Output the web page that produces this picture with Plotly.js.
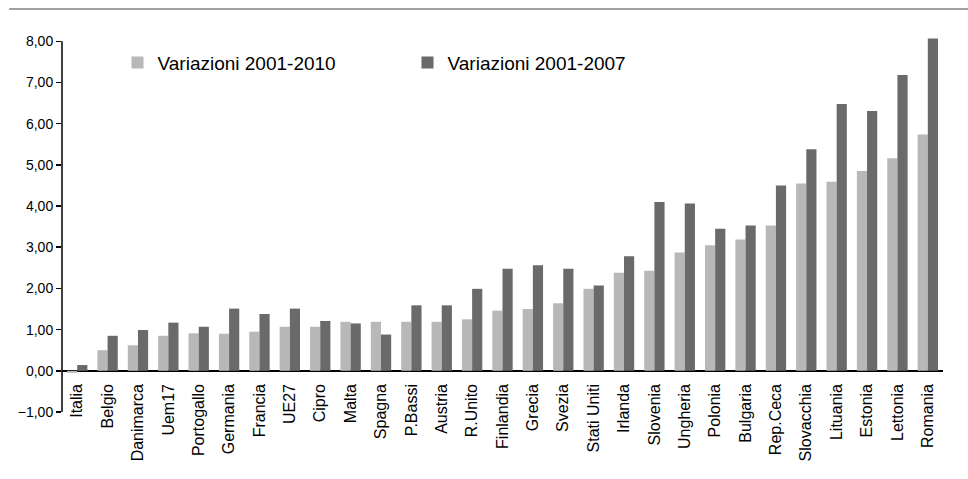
<!DOCTYPE html>
<html>
<head>
<meta charset="utf-8">
<script src="https://cdn.plot.ly/plotly-3.0.1.min.js"></script>
<style>html,body{margin:0;padding:0;background:#fff;}#chart{width:968px;height:479px;}</style>
</head>
<body>
<div id="chart"></div>
<script>
const countries = ["Italia","Belgio","Danimarca","Uem17","Portogallo","Germania","Francia","UE27","Cipro","Malta","Spagna","P.Bassi","Austria","R.Unito","Finlandia","Grecia","Svezia","Stati Uniti","Irlanda","Slovenia","Ungheria","Polonia","Bulgaria","Rep.Ceca","Slovacchia","Lituania","Estonia","Lettonia","Romania"];
const var2001_2010 = [-0.05,0.50,0.62,0.85,0.91,0.90,0.95,1.07,1.07,1.19,1.19,1.19,1.19,1.25,1.46,1.50,1.64,1.99,2.38,2.43,2.87,3.05,3.19,3.53,4.55,4.59,4.85,5.16,5.74];
const var2001_2007 = [0.14,0.85,0.99,1.17,1.07,1.51,1.38,1.51,1.21,1.15,0.88,1.59,1.59,1.99,2.48,2.56,2.48,2.07,2.78,4.10,4.06,3.45,3.53,4.50,5.38,6.48,6.31,7.18,8.07];
const seriesNames = ["Variazioni 2001-2010","Variazioni 2001-2007"];
const yTicks = [-1,0,1,2,3,4,5,6,7,8];

const yMin = -1, yTop = 8, yMax = 8.08;
const font = "Liberation Sans, Arial, sans-serif";
const traces = [
  {type:"bar", name:seriesNames[0], x:countries, y:var2001_2010, marker:{color:"#b8b8b8"}},
  {type:"bar", name:seriesNames[1], x:countries, y:var2001_2007, marker:{color:"#6a6a6a"}}
];
const layout = {
  width:968, height:479,
  margin:{l:62, r:25, t:38, b:67, pad:0},
  paper_bgcolor:"#fff", plot_bgcolor:"#fff",
  separators:",.",
  barmode:"group", bargap:0.33, bargroupgap:0,
  font:{family:font, color:"#000", size:14},
  showlegend:true,
  legend:{orientation:"h", x:0.063, y:0.985, xanchor:"left", yanchor:"top",
          font:{family:font, size:19, color:"#000"}, entrywidth:245, bgcolor:"rgba(0,0,0,0)"},
  xaxis:{type:"category", anchor:"free", position:(0-yMin)/(yMax-yMin), showline:false, ticks:"", showgrid:false,
         tickangle:-90, tickfont:{family:font, size:16, color:"#000"}, ticklabelstandoff:9,
         range:[-0.5, countries.length-0.5]},
  yaxis:{range:[yMin,yMax], tickvals:yTicks, tickformat:".2f", showgrid:false,
         showline:false, ticks:"outside", ticklen:5, tickcolor:"#000", tickwidth:1.5,
         zeroline:true, zerolinecolor:"#000", zerolinewidth:1.5,
         tickfont:{family:font, size:14, color:"#000"}},
  shapes:[
    {type:"line", xref:"paper", yref:"paper", x0:-0.06, x1:1.03, y0:1+29/374, y1:1+29/374,
     line:{color:"#a0a0a0", width:2}},
    {type:"line", xref:"paper", yref:"y", x0:0, x1:0, y0:yMin, y1:yTop,
     line:{color:"#000", width:1.5}}
  ]
};
Plotly.newPlot("chart", traces, layout, {displayModeBar:false, staticPlot:true});
</script>
</body>
</html>
